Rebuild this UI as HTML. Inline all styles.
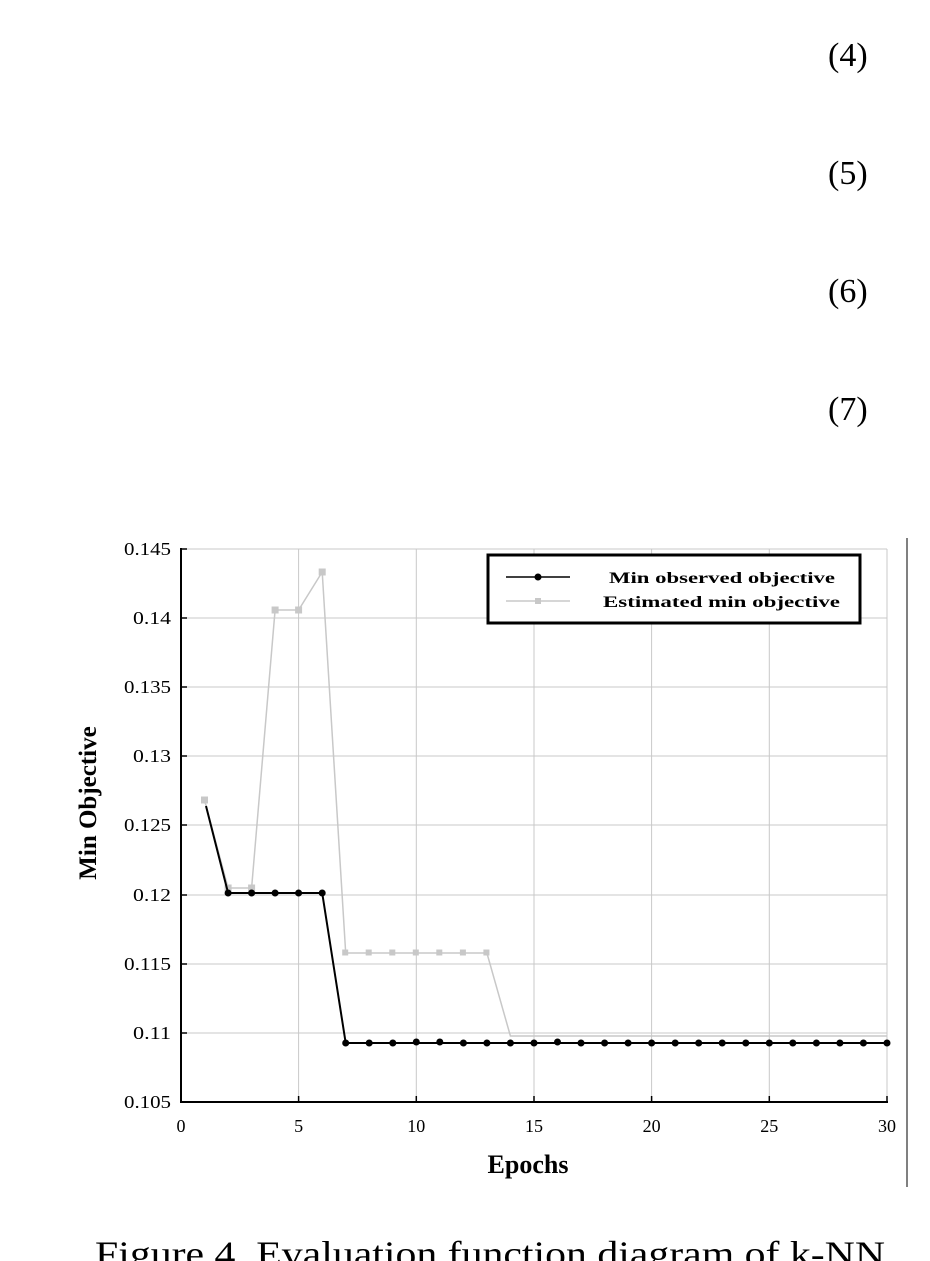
<!DOCTYPE html>
<html><head><meta charset="utf-8"><style>
html,body{margin:0;padding:0;background:#fff;}
svg{display:block;}
</style></head><body>
<svg width="930" height="1261" viewBox="0 0 930 1261" xmlns="http://www.w3.org/2000/svg" font-family="Liberation Serif, serif">
<g font-size="34" fill="#000">
<text x="828" y="66">(4)</text>
<text x="828" y="184">(5)</text>
<text x="828" y="302">(6)</text>
<text x="828" y="420">(7)</text>
</g>
<line x1="907" y1="538" x2="907" y2="1187" stroke="#000" stroke-width="1"/>
<g stroke="#c8c8c8" stroke-width="1">
<line x1="181" y1="549" x2="887" y2="549"/>
<line x1="181" y1="618" x2="887" y2="618"/>
<line x1="181" y1="687" x2="887" y2="687"/>
<line x1="181" y1="756" x2="887" y2="756"/>
<line x1="181" y1="825" x2="887" y2="825"/>
<line x1="181" y1="895" x2="887" y2="895"/>
<line x1="181" y1="964" x2="887" y2="964"/>
<line x1="181" y1="1033" x2="887" y2="1033"/>
<line x1="298.6" y1="549" x2="298.6" y2="1102"/>
<line x1="416.3" y1="549" x2="416.3" y2="1102"/>
<line x1="534" y1="549" x2="534" y2="1102"/>
<line x1="651.6" y1="549" x2="651.6" y2="1102"/>
<line x1="769.3" y1="549" x2="769.3" y2="1102"/>
<line x1="887" y1="549" x2="887" y2="1102"/>
</g>
<line x1="181" y1="548" x2="181" y2="1103" stroke="#000" stroke-width="2"/>
<line x1="180" y1="1102" x2="888" y2="1102" stroke="#000" stroke-width="2"/>
<g stroke="#000" stroke-width="1.5">
<line x1="181" y1="549" x2="187" y2="549"/><line x1="181" y1="618" x2="187" y2="618"/>
<line x1="181" y1="687" x2="187" y2="687"/><line x1="181" y1="756" x2="187" y2="756"/>
<line x1="181" y1="825" x2="187" y2="825"/><line x1="181" y1="895" x2="187" y2="895"/>
<line x1="181" y1="964" x2="187" y2="964"/><line x1="181" y1="1033" x2="187" y2="1033"/>
<line x1="298.6" y1="1096" x2="298.6" y2="1102"/><line x1="416.3" y1="1096" x2="416.3" y2="1102"/>
<line x1="534" y1="1096" x2="534" y2="1102"/><line x1="651.6" y1="1096" x2="651.6" y2="1102"/>
<line x1="769.3" y1="1096" x2="769.3" y2="1102"/><line x1="887" y1="1096" x2="887" y2="1102"/>
</g>
<g font-size="18" text-anchor="end" fill="#000">
<text x="171" y="555" textLength="47" lengthAdjust="spacingAndGlyphs">0.145</text><text x="171" y="624" textLength="38" lengthAdjust="spacingAndGlyphs">0.14</text>
<text x="171" y="693" textLength="47" lengthAdjust="spacingAndGlyphs">0.135</text><text x="171" y="762" textLength="38" lengthAdjust="spacingAndGlyphs">0.13</text>
<text x="171" y="831" textLength="47" lengthAdjust="spacingAndGlyphs">0.125</text><text x="171" y="901" textLength="38" lengthAdjust="spacingAndGlyphs">0.12</text>
<text x="171" y="970" textLength="47" lengthAdjust="spacingAndGlyphs">0.115</text><text x="171" y="1039" textLength="38" lengthAdjust="spacingAndGlyphs">0.11</text>
<text x="171" y="1108" textLength="47" lengthAdjust="spacingAndGlyphs">0.105</text>
</g>
<g font-size="18" text-anchor="middle" fill="#000">
<text x="181" y="1132">0</text><text x="298.6" y="1132">5</text><text x="416.3" y="1132">10</text>
<text x="534" y="1132">15</text><text x="651.6" y="1132">20</text><text x="769.3" y="1132">25</text><text x="887" y="1132">30</text>
</g>
<text x="528" y="1173" font-size="26" font-weight="bold" text-anchor="middle">Epochs</text>
<text transform="translate(96,803) rotate(-90)" font-size="25" font-weight="bold" text-anchor="middle">Min Objective</text>
<polyline fill="none" stroke="#c8c8c8" stroke-width="1.5" points="204.5,800 228.1,888 251.6,888 275.1,610 298.6,610 322.2,572 345.7,953 369.2,953 392.8,953 416.3,953 439.8,953 463.4,953 486.9,953 510.4,1036 534,1036 557.5,1036 581,1036 604.6,1036 628.1,1036 651.6,1036 675.2,1036 698.7,1036 722.2,1036 745.8,1036 769.3,1036 792.8,1036 816.4,1036 839.9,1036 863.4,1036 887,1036"/>
<g fill="#c8c8c8">
<rect x="201" y="796.5" width="7" height="7"/><rect x="224.6" y="884.5" width="7" height="7"/><rect x="248.1" y="884.5" width="7" height="7"/>
<rect x="271.6" y="606.5" width="7" height="7"/><rect x="295.1" y="606.5" width="7" height="7"/><rect x="318.7" y="568.5" width="7" height="7"/>
<rect x="342.2" y="949.5" width="6" height="6"/><rect x="365.7" y="949.5" width="6" height="6"/><rect x="389.3" y="949.5" width="6" height="6"/>
<rect x="412.8" y="949.5" width="6" height="6"/><rect x="436.3" y="949.5" width="6" height="6"/><rect x="459.9" y="949.5" width="6" height="6"/><rect x="483.4" y="949.5" width="6" height="6"/>
</g>
<polyline fill="none" stroke="#000" stroke-width="2" points="206,806 228.1,893 251.6,893 275.1,893 298.6,893 322.2,893 345.7,1043 887,1043"/>
<g fill="#000">
<circle cx="228.1" cy="893" r="3.5"/><circle cx="251.6" cy="893" r="3.5"/><circle cx="275.1" cy="893" r="3.5"/><circle cx="298.6" cy="893" r="3.5"/><circle cx="322.2" cy="893" r="3.5"/>
<circle cx="345.7" cy="1043" r="3.5"/><circle cx="369.2" cy="1043" r="3.5"/><circle cx="392.8" cy="1043" r="3.5"/><circle cx="416.3" cy="1042" r="3.5"/><circle cx="439.8" cy="1042" r="3.5"/>
<circle cx="463.4" cy="1043" r="3.5"/><circle cx="486.9" cy="1043" r="3.5"/><circle cx="510.4" cy="1043" r="3.5"/><circle cx="534" cy="1043" r="3.5"/><circle cx="557.5" cy="1042" r="3.5"/>
<circle cx="581" cy="1043" r="3.5"/><circle cx="604.6" cy="1043" r="3.5"/><circle cx="628.1" cy="1043" r="3.5"/><circle cx="651.6" cy="1043" r="3.5"/><circle cx="675.2" cy="1043" r="3.5"/>
<circle cx="698.7" cy="1043" r="3.5"/><circle cx="722.2" cy="1043" r="3.5"/><circle cx="745.8" cy="1043" r="3.5"/><circle cx="769.3" cy="1043" r="3.5"/><circle cx="792.8" cy="1043" r="3.5"/>
<circle cx="816.4" cy="1043" r="3.5"/><circle cx="839.9" cy="1043" r="3.5"/><circle cx="863.4" cy="1043" r="3.5"/><circle cx="887" cy="1043" r="3.5"/>
</g>
<rect x="488" y="555" width="372" height="68" fill="#fff" stroke="#000" stroke-width="3"/>
<line x1="506" y1="577" x2="570" y2="577" stroke="#000" stroke-width="1.5"/>
<circle cx="538" cy="577" r="3.5" fill="#000"/>
<line x1="506" y1="601" x2="570" y2="601" stroke="#c8c8c8" stroke-width="1.5"/>
<rect x="535" y="598" width="6" height="6" fill="#c8c8c8"/>
<g font-size="16" font-weight="bold" fill="#000">
<text x="609" y="583" textLength="226" lengthAdjust="spacingAndGlyphs">Min observed objective</text>
<text x="603" y="607" textLength="237" lengthAdjust="spacingAndGlyphs">Estimated min objective</text>
</g>
<text x="95" y="1266" font-size="36" textLength="790" lengthAdjust="spacingAndGlyphs">Figure 4. Evaluation function diagram of k-NN</text>
</svg>
</body></html>
